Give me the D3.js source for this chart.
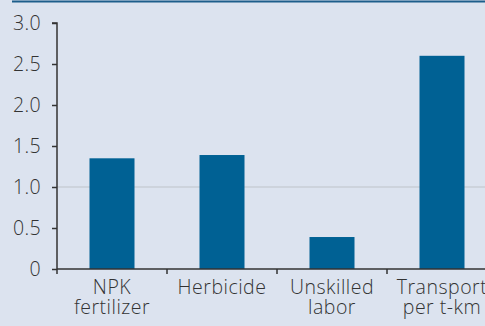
<!DOCTYPE html>
<html>
<head>
<meta charset="utf-8">
<script src="https://cdn.jsdelivr.net/npm/d3@7"></script>
<style>
  html, body { margin: 0; padding: 0; background: #dce3ef; }
  svg { display: block; }
  text { font-family: "Open Sans", Lato, sans-serif; font-weight: 350; fill: #333; }
</style>
</head>
<body>
<svg id="chart" width="485" height="326"></svg>
<script>
// Input cost ratios by category
const categories = ["NPK fertilizer", "Herbicide", "Unskilled labor", "Transport per t-km"];
const labelLines = [["NPK", "fertilizer"], ["Herbicide"], ["Unskilled", "labor"], ["Transport", "per t-km"]];
const values = [1.35, 1.39, 0.39, 2.6];
const yTicks = [0, 0.5, 1.0, 1.5, 2.0, 2.5, 3.0];
const yTickLabels = ["0", "0.5", "1.0", "1.5", "2.0", "2.5", "3.0"];

const svg = d3.select("#chart");
const W = 485, H = 326;
const left = 57, bandW = 110;
const fontSize = "19.5px";

// background and top rule
svg.append("rect").attr("width", W).attr("height", H).attr("fill", "#dce3ef");
svg.append("line").attr("x1", 12).attr("x2", W).attr("y1", 1.5).attr("y2", 1.5)
  .attr("stroke", "#1d5e8b").attr("stroke-width", 2);

const x = d3.scaleBand().domain(categories)
  .range([left, left + bandW * categories.length]).paddingInner(0).paddingOuter(0);
const y = d3.scaleLinear().domain([0, 3]).range([269, 23]);

// reference line at 1.0
svg.append("line").attr("x1", left).attr("x2", W)
  .attr("y1", y(1)).attr("y2", y(1))
  .attr("stroke", "#c9ced6").attr("stroke-width", 1.5);

// bars
const barW = 45;
svg.selectAll("rect.bar").data(values).join("rect")
  .attr("class", "bar")
  .attr("x", (d, i) => x(categories[i]) + (bandW - barW) / 2)
  .attr("y", d => y(d))
  .attr("width", barW)
  .attr("height", d => y(0) - y(d))
  .attr("fill", "#006194");

// y axis
const yAxis = d3.axisLeft(y).tickValues(yTicks)
  .tickFormat((d, i) => yTickLabels[i]).tickSize(5).tickPadding(11);
const gy = svg.append("g").attr("transform", `translate(${left},0)`).call(yAxis);
gy.select(".domain").attr("stroke", "#333").attr("stroke-width", 1.5).attr("d", `M-5,${y(3)}H0V${y(0)}`);
gy.selectAll(".tick line").attr("stroke", "#333").attr("stroke-width", 1.5);
gy.selectAll(".tick text").style("font-size", fontSize).attr("fill", "#333")
  .style("font-family", "'Open Sans', Lato, sans-serif").style("font-weight", 350)
  .style("letter-spacing", "0.4px");

// x axis
const xEdges = d3.range(categories.length).map(i => left + i * bandW);
svg.append("line").attr("x1", left).attr("x2", W).attr("y1", y(0)).attr("y2", y(0))
  .attr("stroke", "#333").attr("stroke-width", 1.5);
svg.selectAll("line.xtick").data(xEdges).join("line")
  .attr("class", "xtick")
  .attr("x1", d => d).attr("x2", d => d)
  .attr("y1", y(0)).attr("y2", y(0) + 5)
  .attr("stroke", "#333").attr("stroke-width", 1.5);

// category labels
const lab = svg.selectAll("text.xlab").data(categories).join("text")
  .attr("class", "xlab")
  .attr("text-anchor", "middle")
  .attr("x", d => x(d) + bandW / 2)
  .style("font-size", fontSize)
  .style("letter-spacing", "0.5px");
lab.each(function(d, i) {
  d3.select(this).selectAll("tspan").data(labelLines[i]).join("tspan")
    .attr("x", x(d) + bandW / 2)
    .attr("y", (t, j) => 294 + j * 20)
    .text(t => t);
});
</script>
</body>
</html>
